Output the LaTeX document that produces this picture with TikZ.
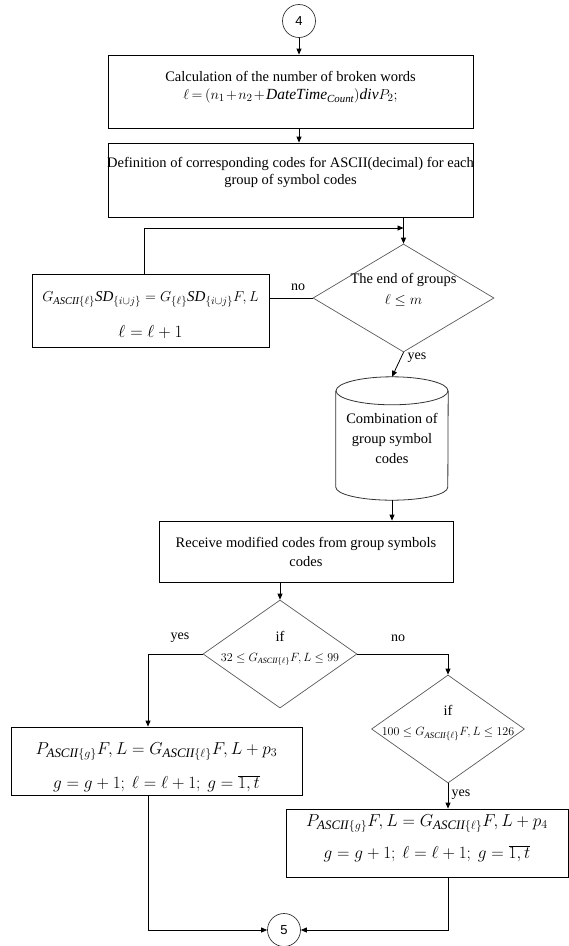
\documentclass[tikz,border=0pt]{standalone}
\usepackage{fontspec}
\setmainfont{Liberation Serif}
\newfontfamily\connfont{Liberation Sans}
\usetikzlibrary{arrows.meta,shapes.geometric}

\newcommand{\asc}[1]{\mathit{ASCII}\{#1\}}

\begin{document}
\begin{tikzpicture}[x=1pt,y=-1pt,
  every node/.style={font=\fontsize{14.5}{17}\selectfont, inner sep=0pt},
  box/.style={draw=black, line width=0.8pt, rectangle, align=center},
  txt/.style={align=center},
  dec/.style={diamond, draw=black!65, line width=0.7pt, inner sep=0pt},
  conn/.style={circle, draw=black!80, line width=0.7pt, minimum size=33pt,
    font=\connfont\fontsize{13}{15}\selectfont},
  arr/.style={-{Triangle[length=6pt,width=5pt]}, line width=0.8pt},
  ln/.style={line width=0.8pt},
  lbl/.style={font=\fontsize{14}{15}\selectfont}]
\useasboundingbox (0,0) rectangle (569,946);

% connector 4 and the first two process boxes
\node[conn] (c4) at (299,21) {4};
\node[box, minimum width=365pt, minimum height=73pt] (box1) at (290.5,91.5) {};
\node[txt] (box1txt) at (290.5,87.5) {Calculation of the number of broken words\\[1pt]
  {\fontsize{15.5}{17}\selectfont \medmuskip=1.5mu \thickmuskip=3mu
   $\ell=(n_1+n_2+\mathit{DateTime}_{\mathit{Count}})\mathit{div}P_2;$}};
\node[box, minimum width=365pt, minimum height=74pt] (box2) at (290.5,180) {};
\node[txt] (box2txt) at (290.5,172) {Definition of corresponding codes for ASCII(decimal) for each\\
  group of symbol codes};

% loop: end of groups test and the group update box
\node[dec, minimum width=181pt, minimum height=108pt] (d1) at (403.5,298) {};
\node[txt] (d1txt) at (403.5,290) {The end of groups\\[4pt]
  {\fontsize{15}{17}\selectfont $\ell\le m$}};
\node[box, minimum width=237pt, minimum height=73pt] (lbox) at (150.5,310.5) {};
\node[txt] (lboxtxt) at (150.5,315) {\fontsize{15}{17}\selectfont
   $G_{\asc{\ell}}\mathit{SD}_{\{i\cup j\}}=G_{\{\ell\}}\mathit{SD}_{\{i\cup j\}}F,L$\\[17pt]
   \fontsize{16}{18}\selectfont $\ell=\ell+1$};
\coordinate (j1) at (403.5,228);

% storage of combined codes
\node[txt, minimum width=112pt, minimum height=123pt] (cyl) at (392,438.5)
  {Combination of\\[3pt] group symbol\\[3pt] codes};
\draw[ln, draw=black!80] ([yshift=-14pt]cyl.north) ellipse [x radius=56pt, y radius=14pt];
\draw[ln, draw=black!80] ([yshift=-14pt]cyl.north west) -- ([yshift=13pt]cyl.south west)
  arc[start angle=180, end angle=360, x radius=56pt, y radius=13pt]
  -- ([yshift=-14pt]cyl.north east);

\node[box, minimum width=294pt, minimum height=61pt] (box3) at (306,551.5)
  {Receive modified codes from group symbols\\[2pt] codes};

% range tests
\node[dec, minimum width=154pt, minimum height=108pt] (d2) at (280,654) {};
\node[txt] (d2txt) at (280,648) {if\\[3pt]
  {\fontsize{11.5}{13}\selectfont $32\le G_{\asc{\ell}}F,L\le 99$}};
\node[dec, minimum width=153pt, minimum height=108pt] (d3) at (448,729) {};
\node[txt] (d3txt) at (448,723) {if\\[3pt]
  {\fontsize{12.3}{13}\selectfont $100\le G_{\asc{\ell}}F,L\le 126$}};

% code modification boxes
\node[box, minimum width=291pt, minimum height=68pt] (box4) at (156.5,761) {};
\node[txt] (box4txt) at (156.5,767) {\fontsize{18.5}{20}\selectfont
  $P_{\asc{g}}F,L=G_{\asc{\ell}}F,L+p_3$\\[14pt]
  \fontsize{16}{17}\selectfont $g=g+1;\ \ell=\ell+1;\ g=\overline{1,t}$};
\node[box, minimum width=282pt, minimum height=68pt] (box5) at (427,843) {};
\node[txt] (box5txt) at (427,838) {\fontsize{18.5}{20}\selectfont
  $P_{\asc{g}}F,L=G_{\asc{\ell}}F,L+p_4$\\[12pt]
  \fontsize{16}{17}\selectfont $g=g+1;\ \ell=\ell+1;\ g=\overline{1,t}$};

\node[conn] (c5) at (284,930) {5};

% connectors
\draw[arr] (c4) -- (c4 |- box1.north);
\draw[arr] (box1.south -| c4) -- (box2.north -| c4);
\draw[arr] (box2.south -| d1.north) -- (d1.north);
\draw[arr] ([xshift=-6.5pt]lbox.north) |- (j1);
\draw[ln] (d1.west) -- (d1.west -| lbox.east);
\draw[arr] (d1.south) -- (cyl.north);
\draw[arr] (cyl.south) -- (cyl.south |- box3.north);
\draw[arr] (d2.north |- box3.south) -- (d2.north);
\draw[arr] (d2.west) -| ([xshift=-8.5pt]box4.north);
\draw[arr] (d2.east) -| (d3.north);
\draw[arr] (d3.south) -- (d3.south |- box5.north);
\draw[arr] ([xshift=-8.5pt]box4.south) |- (c5.west);
\draw[arr] (box5.south -| d3.south) |- (c5.east);

% branch labels
\node[lbl] (no1) at (298,287) {no};
\node[lbl] (yes1) at (417,358) {yes};
\node[lbl] (yes2) at (180,638) {yes};
\node[lbl] (no2) at (398,638) {no};
\node[lbl] (yes3) at (461,795) {yes};
\end{tikzpicture}
\end{document}
